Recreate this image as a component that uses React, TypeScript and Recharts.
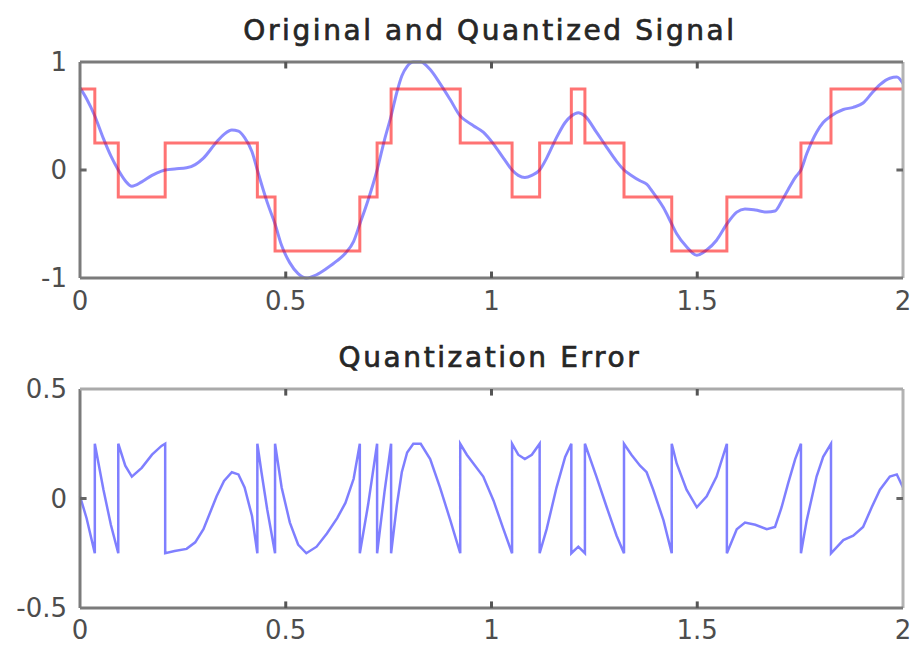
import React from 'react';
import { LineChart, Line, XAxis, YAxis, ReferenceLine } from 'recharts';

// original signal (time in s, amplitude)
const sampleTimes = [
  0.0, 0.016, 0.036, 0.057, 0.075, 0.093, 0.11, 0.126, 0.15, 0.175, 0.198, 0.207, 0.23, 0.259, 0.28, 0.3,
  0.332, 0.35, 0.369, 0.385, 0.4, 0.418, 0.431, 0.441, 0.455, 0.474, 0.49, 0.51, 0.53, 0.55, 0.575, 0.6,
  0.625, 0.645, 0.665, 0.68, 0.7, 0.722, 0.74, 0.756, 0.77, 0.782, 0.795, 0.81, 0.828, 0.851, 0.875, 0.9,
  0.924, 0.94, 0.956, 0.98, 1.005, 1.029, 1.05, 1.065, 1.081, 1.098, 1.117, 1.134, 1.158, 1.179, 1.194,
  1.211, 1.227, 1.255, 1.28, 1.304, 1.322, 1.34, 1.361, 1.377, 1.393, 1.418, 1.438, 1.45, 1.474, 1.499,
  1.523, 1.547, 1.572, 1.596, 1.616, 1.641, 1.669, 1.689, 1.705, 1.721, 1.738, 1.752, 1.766, 1.79, 1.806,
  1.825, 1.855, 1.879, 1.903, 1.924, 1.944, 1.968, 1.985, 2.0,
];
const signalValues = [
  0.76, 0.66, 0.5, 0.29, 0.13, 0.0, -0.1, -0.15, -0.11, -0.05, -0.01, 0.0, 0.01, 0.02, 0.05, 0.11,
  0.26, 0.33, 0.37, 0.36, 0.3, 0.17, 0.0, -0.13, -0.3, -0.5, -0.7, -0.86, -0.96, -1.0, -0.97, -0.91,
  -0.84, -0.77, -0.66, -0.5, -0.28, 0.0, 0.28, 0.5, 0.72, 0.87, 0.96, 1.0, 1.0, 0.93, 0.8, 0.65,
  0.5, 0.45, 0.41, 0.35, 0.24, 0.11, 0.0, -0.05, -0.07, -0.05, 0.0, 0.11, 0.3, 0.44, 0.5,
  0.53, 0.5, 0.35, 0.21, 0.08, 0.0, -0.05, -0.1, -0.13, -0.21, -0.35, -0.5, -0.59, -0.71, -0.79,
  -0.74, -0.65, -0.5, -0.39, -0.36, -0.37, -0.39, -0.38, -0.29, -0.18, -0.07, 0.0, 0.15, 0.35, 0.44,
  0.5, 0.56, 0.58, 0.62, 0.71, 0.79, 0.85, 0.86, 0.8,
];

// quantized signal: time of each step and the level it switches to
const stepTimes = [
  0, 0.036, 0.093, 0.207, 0.431, 0.474, 0.68, 0.722, 0.756, 0.924, 1.05, 1.117, 1.194, 1.227, 1.322, 1.438,
  1.572, 1.752, 1.825, 2.0,
];
const stepLevels = [
  0.75, 0.25, -0.25, 0.25, -0.25, -0.75, -0.25, 0.25, 0.75, 0.25, -0.25, 0.25, 0.75, 0.25, -0.25, -0.75,
  -0.25, 0.25, 0.75, 0.75,
];

const xTicks = [0, 0.5, 1, 1.5, 2];
const signalTicks = [-1, 0, 1];
const errorTicks = [-0.5, 0, 0.5];

const signalData = sampleTimes.map((t, i) => ({ t, v: signalValues[i] }));
const quantizedData = stepTimes.map((t, i) => ({ t, q: stepLevels[i] }));

// error = original - quantized, with both sides kept at each step
const levelIndexAt = (t: number) => {
  let k = 0;
  stepTimes.forEach((s, j) => {
    if (s <= t) k = j;
  });
  return k;
};
const errorData: { t: number; e: number }[] = [];
sampleTimes.forEach((t, i) => {
  const v = signalValues[i];
  const k = levelIndexAt(t);
  if (k > 0 && stepTimes[k] === t && stepLevels[k - 1] !== stepLevels[k]) {
    errorData.push({ t, e: v - stepLevels[k - 1] });
  }
  errorData.push({ t, e: v - stepLevels[k] });
});

const font = '"DejaVu Sans", sans-serif';
const tickStyle = { fontFamily: font, fontSize: 26, fill: '#4d4d4d' };
const darkEdge = '#7b7b7b';
const lightEdge = '#b3b3b3';
const titleProps = {
  textAnchor: 'middle' as const,
  fontFamily: font,
  fontSize: 28,
  letterSpacing: 2.6,
  fill: '#262626',
  stroke: '#262626',
  strokeWidth: 0.7,
};

function frame(yMin: number, yMax: number, topColor: string) {
  const dy = (yMax - yMin) * 0.03;
  const dx = 0.016;
  const lines = [
    <ReferenceLine key="l" x={0} stroke={darkEdge} strokeWidth={3} />,
    <ReferenceLine key="r" x={2} stroke={lightEdge} strokeWidth={3} />,
    <ReferenceLine key="t" y={yMax} stroke={topColor} strokeWidth={3} />,
    <ReferenceLine key="b" y={yMin} stroke={darkEdge} strokeWidth={3} />,
    <ReferenceLine key="yl" segment={[{ x: 0, y: 0 }, { x: dx, y: 0 }]} stroke="#666" strokeWidth={3} />,
    <ReferenceLine key="yr" segment={[{ x: 2 - dx, y: 0 }, { x: 2, y: 0 }]} stroke="#666" strokeWidth={3} />,
  ];
  [0.5, 1, 1.5].forEach((x) => {
    lines.push(
      <ReferenceLine key={`xb${x}`} segment={[{ x, y: yMin }, { x, y: yMin + dy }]} stroke="#555" strokeWidth={3} />,
      <ReferenceLine key={`xt${x}`} segment={[{ x, y: yMax }, { x, y: yMax - dy }]} stroke="#555" strokeWidth={3} />,
    );
  });
  return lines;
}

export default function App() {
  return (
    <div style={{ position: 'absolute', left: 0, top: 0, width: 913, height: 645, background: '#fff' }}>
      <div style={{ position: 'absolute', left: 0, top: 0 }}>
        <LineChart width={913} height={330} margin={{ top: 62, right: 10, left: 0, bottom: 0 }}>
          <XAxis
            type="number"
            dataKey="t"
            domain={[0, 2]}
            ticks={xTicks}
            interval={0}
            axisLine={false}
            tickLine={false}
            tickMargin={8}
            height={52}
            tick={tickStyle}
          />
          <YAxis
            type="number"
            domain={[-1, 1]}
            ticks={signalTicks}
            interval={0}
            axisLine={false}
            tickLine={false}
            tickMargin={7}
            width={80}
            tick={tickStyle}
          />
          <Line
            data={signalData}
            dataKey="v"
            type="monotone"
            stroke="#0000ff"
            strokeOpacity={0.45}
            strokeWidth={3}
            dot={false}
            isAnimationActive={false}
          />
          <Line
            data={quantizedData}
            dataKey="q"
            type="stepAfter"
            stroke="#ff0000"
            strokeOpacity={0.55}
            strokeWidth={3}
            dot={false}
            isAnimationActive={false}
          />
          {frame(-1, 1, darkEdge)}
        </LineChart>
      </div>
      <div style={{ position: 'absolute', left: 0, top: 330 }}>
        <LineChart width={913} height={315} margin={{ top: 59, right: 10, left: 0, bottom: 0 }}>
          <XAxis
            type="number"
            dataKey="t"
            domain={[0, 2]}
            ticks={xTicks}
            interval={0}
            axisLine={false}
            tickLine={false}
            tickMargin={7}
            height={37}
            tick={tickStyle}
          />
          <YAxis
            type="number"
            domain={[-0.5, 0.5]}
            ticks={errorTicks}
            interval={0}
            axisLine={false}
            tickLine={false}
            tickMargin={7}
            width={80}
            tick={tickStyle}
          />
          <Line
            data={errorData}
            dataKey="e"
            type="linear"
            stroke="#0000ff"
            strokeOpacity={0.5}
            strokeWidth={2.5}
            dot={false}
            isAnimationActive={false}
          />
          {frame(-0.5, 0.5, '#aaaaaa')}
        </LineChart>
      </div>
      <svg width={913} height={645} style={{ position: 'absolute', left: 0, top: 0, pointerEvents: 'none' }}>
        <text x={490} y={40} {...titleProps}>
          Original and Quantized Signal
        </text>
        <text x={490} y={367} {...titleProps}>
          Quantization Error
        </text>
      </svg>
    </div>
  );
}
